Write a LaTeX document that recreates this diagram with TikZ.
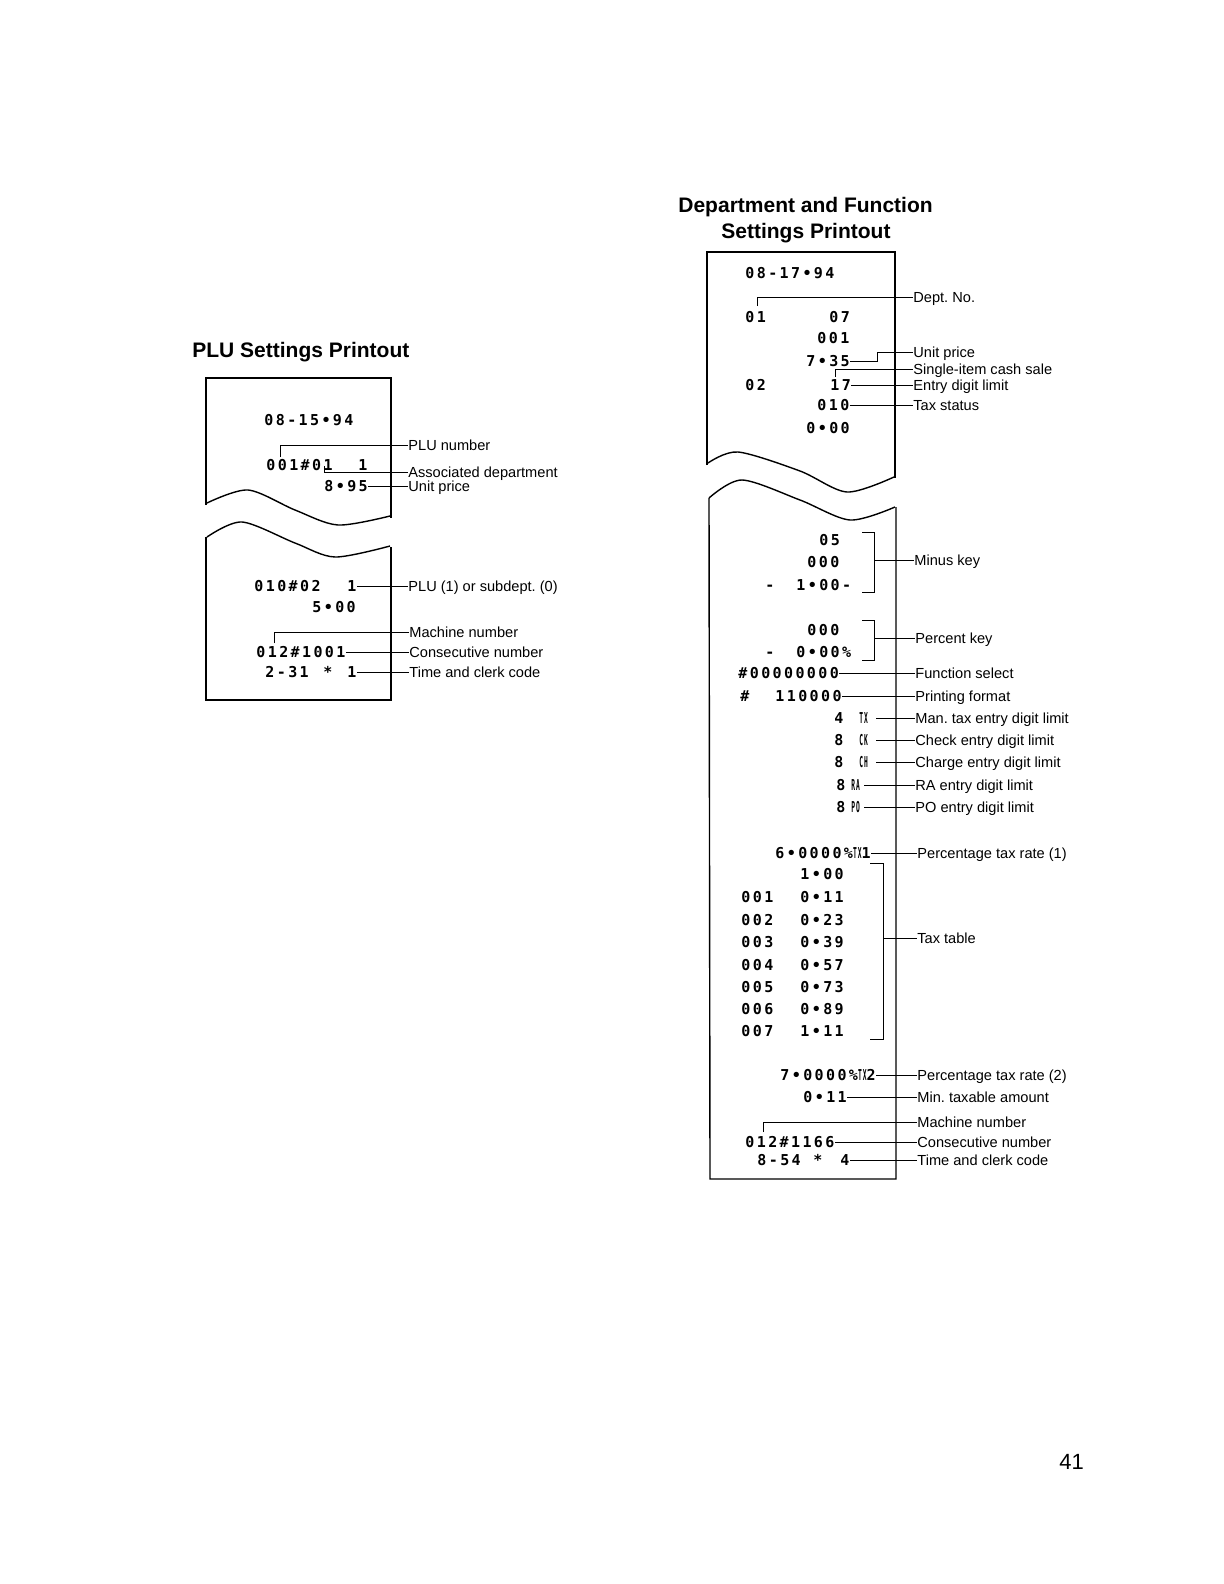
\documentclass[tikz,border=0pt]{standalone}
\usepackage{fontspec}
\setmainfont{Liberation Sans}
\newfontfamily\rcptfont[LetterSpace=16]{DejaVu Sans Mono}
\usepackage{graphicx}
\newcommand{\rsym}[1]{\scalebox{0.42}[1]{#1}}
\frenchspacing

\begin{document}
\begin{tikzpicture}[x=0.5pt, y=-0.5pt,
  ttl/.style={font=\fontsize{10.5}{12.5}\selectfont\bfseries, anchor=west, inner sep=0, text height=7.5pt, text depth=0pt},
  rcpt/.style={font=\rcptfont\fontsize{7.5}{8.5}\selectfont\bfseries, anchor=west, inner sep=0, text height=5.4pt, text depth=0pt},
  lbl/.style={font=\fontsize{7.3}{8.5}\selectfont, anchor=west, inner sep=0, text height=5.2pt, text depth=0pt},
  lead/.style={line width=0.45pt},
  paper/.style={line width=0.7pt},
]
\useasboundingbox (0,0) rectangle (1224,1584);

% --- PLU Settings Printout ---
\node[ttl] (t-plu) at (192,350) {PLU Settings Printout};

\draw[paper] (206,505) -- (206,378) -- (391,378) -- (391,518);
\draw[paper] plot[smooth] coordinates {(207,503) (248,490) (295,510) (338,525) (390,516)};
\draw[paper] plot[smooth] coordinates {(207,537) (242,522) (295,543) (335,557) (390,546)};
\draw[paper] (206,537) -- (206,700) -- (391,700) -- (391,547);

\node[rcpt] (p-date) at (264,420) {08-15•94};
\node[rcpt] (p-plu) at (266,465) {001\#01};
\node[rcpt] (p-pdept) at (358,465) {1};
\node[rcpt] (p-price) at (324,486) {8•95};
\node[rcpt] (p-code) at (254,586) {010\#02};
\node[rcpt] (p-flag) at (347,586) {1};
\node[rcpt] (p-price2) at (312,607) {5•00};
\node[rcpt] (p-cons) at (256,652) {012\#1001};
\node[rcpt] (p-time) at (265,672) {2-31};
\node[rcpt] (p-star) at (323,672) {*};
\node[rcpt] (p-clerk) at (347,672) {1};

\node[lbl] (pl-plu) at (408,445) {PLU number};
\node[lbl] (pl-dept) at (408,472) {Associated department};
\node[lbl] (pl-price) at (408,486) {Unit price};
\node[lbl] (pl-flag) at (408,586) {PLU (1) or subdept. (0)};
\node[lbl] (pl-mach) at (409,632) {Machine number};
\node[lbl] (pl-cons) at (409,652) {Consecutive number};
\node[lbl] (pl-time) at (409,672) {Time and clerk code};

\coordinate (pc-plu) at (280,457);
\coordinate (pc-dept) at (324,466);
\coordinate (pc-mach) at (274,643);
\draw[lead] (pc-plu) |- (pl-plu.west);
\draw[lead] (pc-dept) |- (pl-dept.west);
\draw[lead] (p-price.east) -- (pl-price.west);
\draw[lead] (p-flag.east) -- (pl-flag.west);
\draw[lead] (pc-mach) |- (pl-mach.west);
\draw[lead] (p-cons.east) -- (pl-cons.west);
\draw[lead] (p-clerk.east) -- (pl-time.west);

% --- Department and Function Settings Printout ---
\node[ttl] (t-dept1) at (678,205) {Department and Function};
\node[ttl] (t-dept2) at (721,231) {Settings Printout};

\draw[paper] (707,465) -- (707,252) -- (895,252) -- (895,478);
\draw[paper] plot[smooth] coordinates {(708,463) (738,452) (800,471) (847,492) (894,477)};
\draw[paper] plot[smooth] coordinates {(709,498) (742,480) (800,500) (850,520) (895,507)};
\draw[paper] (709,498) -- (710,1179) -- (896,1179) -- (896,507);

\node[rcpt] (d-date) at (745,273) {08-17•94};
\node[rcpt] (d-01) at (745,317) {01};
\node[rcpt] (d-07) at (829,317) {07};
\node[rcpt] (d-001) at (817,338) {001};
\node[rcpt] (d-735) at (806,361) {7•35};
\node[rcpt] (d-02) at (745,385) {02};
\node[rcpt] (d-17) at (830,385) {17};
\node[rcpt] (d-010) at (817,405) {010};
\node[rcpt] (d-000) at (806,428) {0•00};

\node[rcpt] (d-05) at (819,540) {05};
\node[rcpt] (d-m000) at (807,562) {000};
\node[rcpt] (d-msgn) at (765,585) {-};
\node[rcpt] (d-mval) at (796,585) {1•00-};
\node[rcpt] (d-p000) at (807,630) {000};
\node[rcpt] (d-psgn) at (765,652) {-};
\node[rcpt] (d-pval) at (796,652) {0•00\%};
\node[rcpt] (d-fs) at (738,673) {\#00000000};
\node[rcpt] (d-pfh) at (740,696) {\#};
\node[rcpt] (d-pf) at (775,696) {110000};
\node[rcpt] (d-man) at (834,718) {4};
\node[rcpt] (d-mans) at (859,718) {\rsym{TX}};
\node[rcpt] (d-chk) at (834,740) {8};
\node[rcpt] (d-chks) at (859,740) {\rsym{CK}};
\node[rcpt] (d-chg) at (834,762) {8};
\node[rcpt] (d-chgs) at (859,762) {\rsym{CH}};
\node[rcpt] (d-ra) at (836,785) {8};
\node[rcpt] (d-ras) at (851,785) {\rsym{RA}};
\node[rcpt] (d-po) at (836,807) {8};
\node[rcpt] (d-pos) at (851,807) {\rsym{PO}};

\node[rcpt] (d-rate1) at (775,853) {6•0000\%\rsym{TX}1};
\node[rcpt] (d-t0) at (800,874) {1•00};
\node[rcpt] (d-n1) at (741,897) {001};
\node[rcpt] (d-t1) at (800,897) {0•11};
\node[rcpt] (d-n2) at (741,920) {002};
\node[rcpt] (d-t2) at (800,920) {0•23};
\node[rcpt] (d-n3) at (741,942) {003};
\node[rcpt] (d-t3) at (800,942) {0•39};
\node[rcpt] (d-n4) at (741,965) {004};
\node[rcpt] (d-t4) at (800,965) {0•57};
\node[rcpt] (d-n5) at (741,987) {005};
\node[rcpt] (d-t5) at (800,987) {0•73};
\node[rcpt] (d-n6) at (741,1009) {006};
\node[rcpt] (d-t6) at (800,1009) {0•89};
\node[rcpt] (d-n7) at (741,1031) {007};
\node[rcpt] (d-t7) at (800,1031) {1•11};
\node[rcpt] (d-rate2) at (780,1075) {7•0000\%\rsym{TX}2};
\node[rcpt] (d-min) at (803,1097) {0•11};
\node[rcpt] (d-cons) at (745,1142) {012\#1166};
\node[rcpt] (d-time) at (757,1160) {8-54};
\node[rcpt] (d-star) at (813,1160) {*};
\node[rcpt] (d-clerk) at (840,1160) {4};

\node[lbl] (dl-dept) at (913,297) {Dept. No.};
\node[lbl] (dl-price) at (913,352) {Unit price};
\node[lbl] (dl-single) at (913,369) {Single-item cash sale};
\node[lbl] (dl-entry) at (913,385) {Entry digit limit};
\node[lbl] (dl-tax) at (913,405) {Tax status};
\node[lbl] (dl-minus) at (914,560) {Minus key};
\node[lbl] (dl-pct) at (915,638) {Percent key};
\node[lbl] (dl-fs) at (915,673) {Function select};
\node[lbl] (dl-pf) at (915,696) {Printing format};
\node[lbl] (dl-man) at (915,718) {Man. tax entry digit limit};
\node[lbl] (dl-chk) at (915,740) {Check entry digit limit};
\node[lbl] (dl-chg) at (915,762) {Charge entry digit limit};
\node[lbl] (dl-ra) at (915,785) {RA entry digit limit};
\node[lbl] (dl-po) at (915,807) {PO entry digit limit};
\node[lbl] (dl-rate1) at (917,853) {Percentage tax rate (1)};
\node[lbl] (dl-table) at (917,938) {Tax table};
\node[lbl] (dl-rate2) at (917,1075) {Percentage tax rate (2)};
\node[lbl] (dl-min) at (917,1097) {Min. taxable amount};
\node[lbl] (dl-mach) at (917,1122) {Machine number};
\node[lbl] (dl-cons) at (917,1142) {Consecutive number};
\node[lbl] (dl-time) at (917,1160) {Time and clerk code};

\coordinate (dc-dept) at (757,306);
\coordinate (dc-price) at (877,361);
\coordinate (dc-single) at (835,377);
\draw[lead] (dc-dept) |- (dl-dept.west);
\draw[lead] (d-735.east) -- (dc-price) |- (dl-price.west);
\draw[lead] (dc-single) |- (dl-single.west);
\draw[lead] (d-17.east) -- (dl-entry.west);
\draw[lead] (d-010.east) -- (dl-tax.west);

% brackets
\coordinate (mk-a) at (862,532);
\coordinate (mk-m) at (874,560);
\coordinate (mk-b) at (862,592);
\draw[lead] (mk-a) -| (mk-m) |- (mk-b);
\draw[lead] (mk-m) -- (dl-minus.west);
\coordinate (pk-a) at (862,620);
\coordinate (pk-m) at (874,638);
\coordinate (pk-b) at (862,660);
\draw[lead] (pk-a) -| (pk-m) |- (pk-b);
\draw[lead] (pk-m) -- (dl-pct.west);

\draw[lead] (d-fs.east) -- (dl-fs.west);
\draw[lead] (d-pf.east) -- (dl-pf.west);
\draw[lead] ([xshift=4pt]d-mans.east) -- (dl-man.west);
\draw[lead] ([xshift=4pt]d-chks.east) -- (dl-chk.west);
\draw[lead] ([xshift=4pt]d-chgs.east) -- (dl-chg.west);
\draw[lead] ([xshift=2pt]d-ras.east) -- (dl-ra.west);
\draw[lead] ([xshift=2pt]d-pos.east) -- (dl-po.west);

\draw[lead] (d-rate1.east) -- (dl-rate1.west);
\coordinate (tt-a) at (870,863);
\coordinate (tt-m) at (883,938);
\coordinate (tt-b) at (870,1039);
\draw[lead] (tt-a) -| (tt-m) |- (tt-b);
\draw[lead] (tt-m) -- (dl-table.west);
\draw[lead] (d-rate2.east) -- (dl-rate2.west);
\draw[lead] (d-min.east) -- (dl-min.west);
\coordinate (dc-mach) at (763,1132);
\draw[lead] (dc-mach) |- (dl-mach.west);
\draw[lead] (d-cons.east) -- (dl-cons.west);
\draw[lead] (d-clerk.east) -- (dl-time.west);

% page number
\node[font=\fontsize{11}{13}\selectfont, anchor=west, inner sep=0, text height=7.9pt, text depth=0pt] (pg) at (1059,1462) {41};

\end{tikzpicture}
\end{document}
